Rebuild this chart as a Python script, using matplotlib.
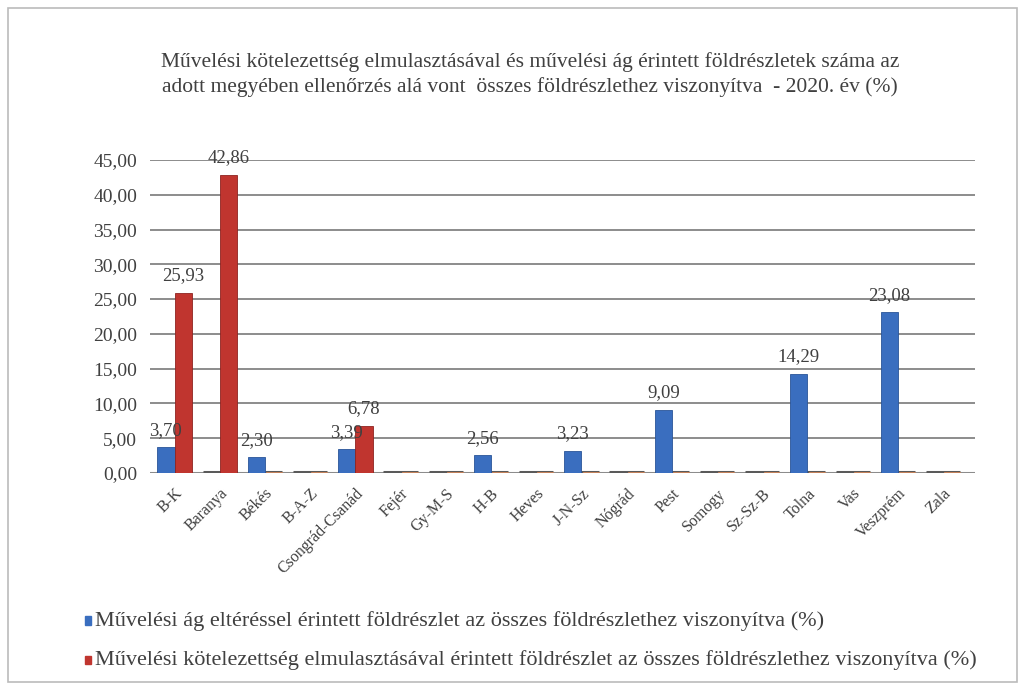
import numpy as np
import matplotlib.pyplot as plt
from matplotlib.patches import Rectangle

# megyék
categories = ['B-K', 'Baranya', 'Békés', 'B-A-Z', 'Csongrád-Csanád', 'Fejér', 'Gy-M-S',
              'H-B', 'Heves', 'J-N-Sz', 'Nógrád', 'Pest', 'Somogy', 'Sz-Sz-B',
              'Tolna', 'Vas', 'Veszprém', 'Zala']
blue_vals = [3.70, 0, 2.30, 0, 3.39, 0, 0, 2.56, 0, 3.23, 0, 9.09, 0, 0, 14.29, 0, 23.08, 0]
red_vals = [25.93, 42.86, 0, 0, 6.78, 0, 0, 0, 0, 0, 0, 0, 0, 0, 0, 0, 0, 0]

blue_name = 'Művelési ág eltéréssel érintett földrészlet az összes földrészlethez viszonyítva (%)'
red_name = 'Művelési kötelezettség elmulasztásával érintett földrészlet az összes földrészlethez viszonyítva (%)'
title = ('Művelési kötelezettség elmulasztásával és művelési ág érintett földrészletek száma az\n'
         'adott megyében ellenőrzés alá vont  összes földrészlethez viszonyítva  - 2020. év (%)')

plt.rcParams['font.family'] = ['Liberation Serif', 'DejaVu Serif']
txt_col = '#404040'
c_blue = '#3a6ebf'
c_red = '#c0352f'

fig = plt.figure(figsize=(10.25, 6.88), dpi=100)
fig.patches.append(Rectangle((0.008, 0.008), 0.984, 0.98, transform=fig.transFigure,
                             fill=False, edgecolor='#bbbbbb', linewidth=1.2))
ax = fig.add_axes([0.146, 0.3125, 0.805, 0.455])

x = np.arange(len(categories))
w = 0.38
ax.bar(x - 0.19, blue_vals, w, color=c_blue, edgecolor='#2a5598', linewidth=0.6, zorder=3)
ax.bar(x + 0.19, red_vals, w, color=c_red, edgecolor='#8e2320', linewidth=0.6, zorder=3)

# lapos "padló" a nulla értékeknél
for i in x:
    ax.plot([i - 0.38, i + 0.38], [0.15, 0.15], color='#5a5a5a', lw=2.2, zorder=2,
            solid_capstyle='butt')
    ax.plot([i + 0.05, i + 0.38], [0.05, 0.05], color='#d98a5a', lw=1.2, zorder=2)

for i, v in enumerate(blue_vals):
    if v > 0:
        ax.text(i - 0.19, v + 1.2, f'{v:.2f}'.replace('.', ','), ha='center', va='bottom',
                fontsize=13.5, color=txt_col)
for i, v in enumerate(red_vals):
    if v > 0:
        ax.text(i + 0.19, v + 1.2, f'{v:.2f}'.replace('.', ','), ha='center', va='bottom',
                fontsize=13.5, color=txt_col)

ax.set_ylim(0, 45)
ax.set_xlim(-0.55, len(categories) - 0.3)
ax.set_yticks(np.arange(0, 46, 5))
ax.set_yticklabels([f'{t:.2f}'.replace('.', ',') for t in np.arange(0, 46, 5)],
                   fontsize=14, color=txt_col)
ax.set_xticks(x)
ax.set_xticklabels(categories, rotation=45, ha='right', rotation_mode='anchor',
                   fontsize=11.5, color=txt_col)
ax.tick_params(length=0, pad=9)
ax.yaxis.grid(True, color='#8c8c8c', linewidth=1.4, zorder=0)
for s in ax.spines.values():
    s.set_visible(False)
ax.axhline(0, color='#a6a6a6', lw=1.5, zorder=1)

fig.text(0.517, 0.892, title, ha='center', va='center', fontsize=15.5, color=txt_col,
         linespacing=1.35)

# jelmagyarázat
fig.patches.append(Rectangle((0.083, 0.092), 0.006, 0.012, transform=fig.transFigure,
                             color=c_blue))
fig.text(0.093, 0.097, blue_name, fontsize=16, color=txt_col, va='center')
fig.patches.append(Rectangle((0.083, 0.035), 0.006, 0.012, transform=fig.transFigure,
                             color=c_red))
fig.text(0.093, 0.040, red_name, fontsize=16, color=txt_col, va='center')

fig.savefig('out.png', dpi=100)
